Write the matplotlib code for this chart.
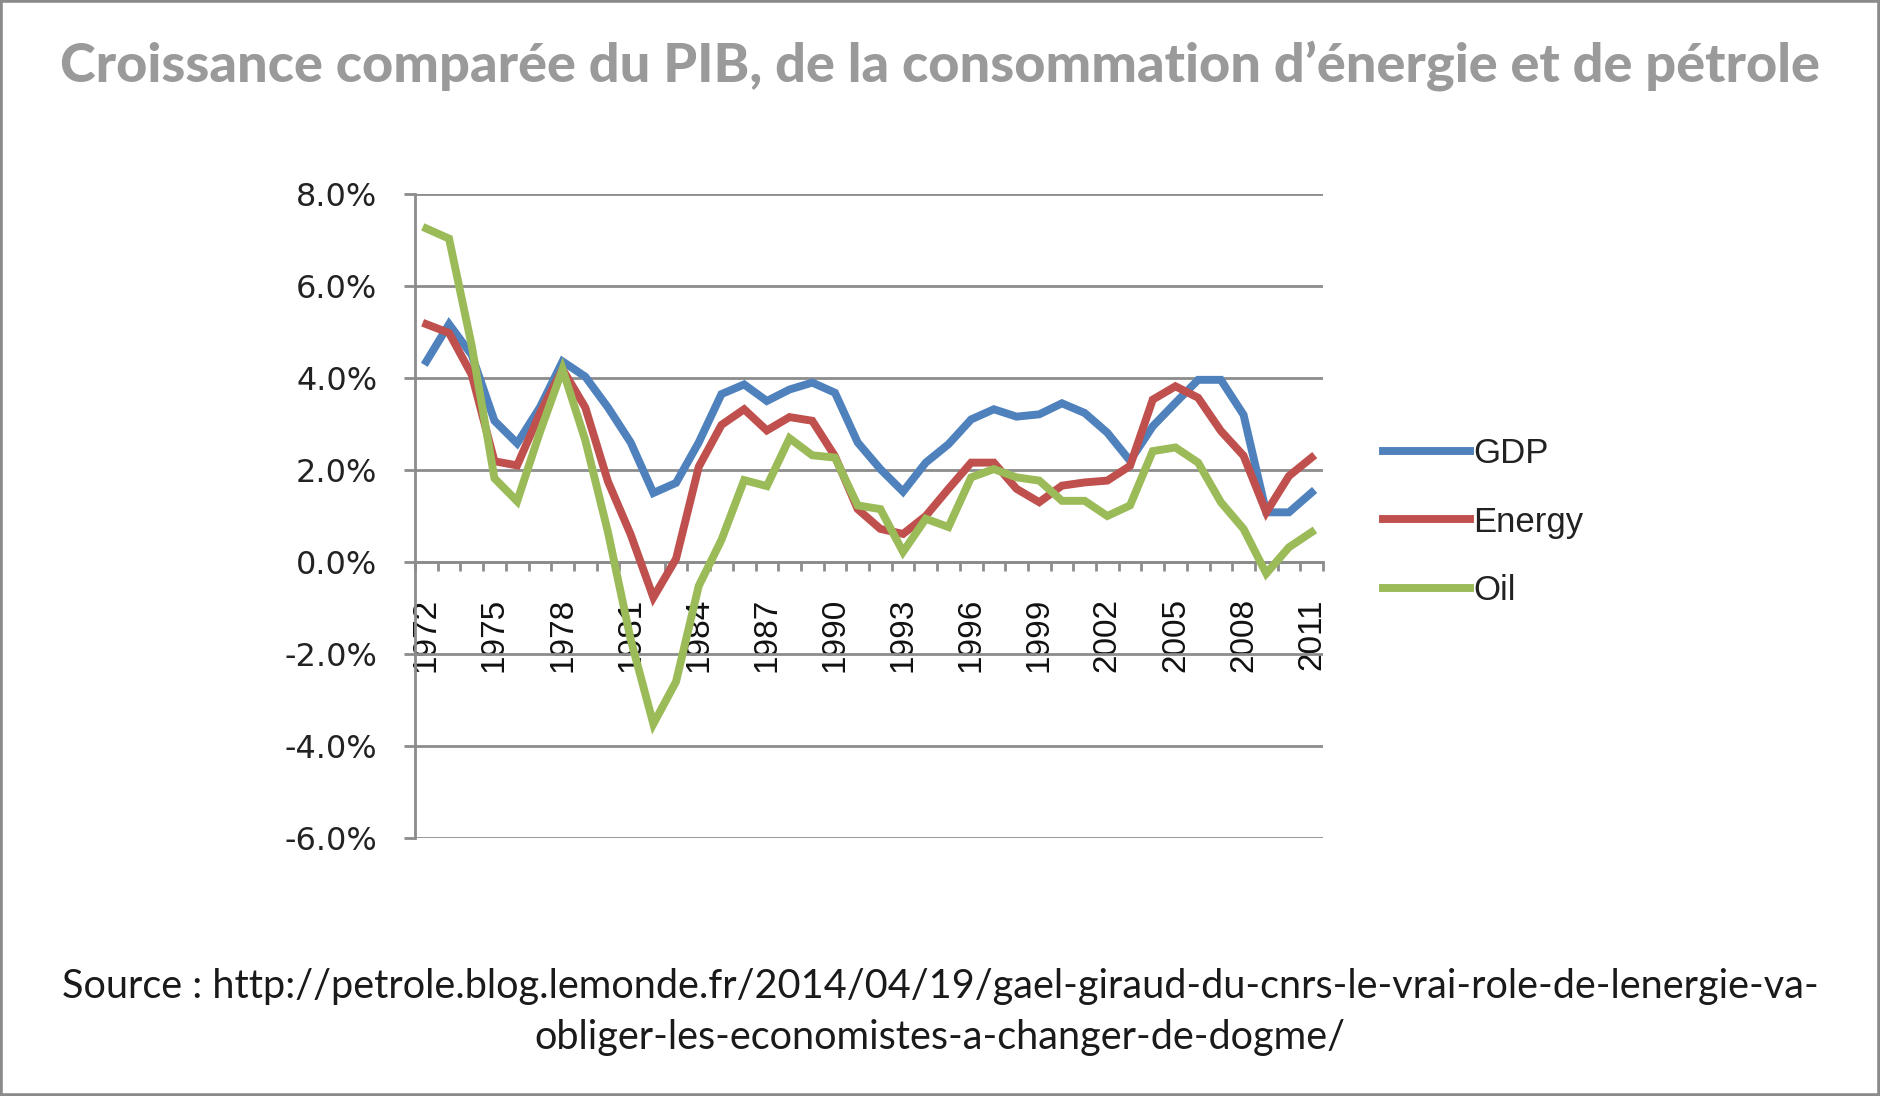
import matplotlib
matplotlib.use("Agg")
import matplotlib.pyplot as plt
from matplotlib.patches import Rectangle
from matplotlib.ticker import FuncFormatter

years = list(range(1972, 2012))
gdp = [4.36, 5.17, 4.5, 3.07, 2.58, 3.36, 4.36, 4.03, 3.36, 2.6,
       1.5, 1.72, 2.6, 3.65, 3.86, 3.5, 3.75, 3.9, 3.68, 2.6,
       2.02, 1.53, 2.16, 2.56, 3.1, 3.32, 3.16, 3.21, 3.45, 3.24,
       2.81, 2.2, 2.95, 3.46, 3.96, 3.96, 3.2, 1.08, 1.08, 1.51]
energy = [5.17, 4.98, 4.07, 2.19, 2.1, 3.23, 4.19, 3.36, 1.75, 0.6,
          -0.77, 0.07, 2.07, 2.98, 3.32, 2.86, 3.15, 3.07, 2.3, 1.15,
          0.72, 0.61, 1.0, 1.59, 2.16, 2.16, 1.59, 1.3, 1.66, 1.73,
          1.77, 2.09, 3.53, 3.82, 3.57, 2.85, 2.31, 1.08, 1.87, 2.27]
oil = [7.25, 7.03, 4.7, 1.82, 1.32, 2.82, 4.19, 2.65, 0.65, -1.68,
       -3.52, -2.6, -0.52, 0.48, 1.78, 1.65, 2.69, 2.32, 2.27, 1.23,
       1.15, 0.22, 0.94, 0.76, 1.84, 2.02, 1.84, 1.77, 1.33, 1.33,
       1.0, 1.23, 2.41, 2.49, 2.16, 1.3, 0.72, -0.25, 0.32, 0.65]
series_names = ["GDP", "Energy", "Oil"]
y_ticks = [-6, -4, -2, 0, 2, 4, 6, 8]

title = "Croissance comparée du PIB, de la consommation d\u2019énergie et de pétrole"
source = ("Source : http://petrole.blog.lemonde.fr/2014/04/19/gael-giraud-du-cnrs-le-vrai-role-de-lenergie-va-\n"
          "obliger-les-economistes-a-changer-de-dogme/")

colors = ["#4F81BD", "#C0504D", "#9BBB59"]
grid_c = "#8c8c8c"

fig = plt.figure(figsize=(18.8, 10.96), dpi=100)
fig.patch.set_facecolor("white")

ax = fig.add_axes([415 / 1880, 1 - 838 / 1096, 908 / 1880, 644 / 1096])
x = list(range(len(years)))
for vals, c, name in zip([gdp, energy, oil], colors, series_names):
    ax.plot(x, vals, color=c, lw=5.7, label=name, solid_joinstyle="miter", zorder=3)

ax.set_xlim(-0.5, len(years) - 0.5)
ax.set_ylim(-6, 8)
ax.set_yticks(y_ticks)
ax.yaxis.set_major_formatter(FuncFormatter(lambda v, p: f"{v:.1f}%"))
ax.grid(axis="y", color=grid_c, lw=2)
ax.set_axisbelow(True)
for s in ["top", "right"]:
    ax.spines[s].set_visible(False)
ax.spines["left"].set_color(grid_c)
ax.spines["left"].set_linewidth(2)
ax.spines["bottom"].set_position(("data", 0))
ax.spines["bottom"].set_color(grid_c)
ax.spines["bottom"].set_linewidth(2)
ax.tick_params(axis="y", direction="out", length=8, width=2, color=grid_c,
               labelsize=23, pad=19, labelcolor="#222222")

# category boundary ticks on the zero axis, labels every 3 years
ax.set_xticks([i - 0.5 for i in range(len(years) + 1)])
ax.set_xticklabels([])
ax.tick_params(axis="x", which="major", direction="out", length=6.5, width=2, color=grid_c)
lab_idx = list(range(0, len(years), 3))
ax.set_xticks(lab_idx, minor=True)
ax.set_xticklabels([str(years[i]) for i in lab_idx], minor=True, rotation=90,
                   fontsize=24, family="Liberation Sans", color="#111111", va="top")
ax.tick_params(axis="x", which="minor", length=0, pad=26)

leg = fig.legend(loc="center left", bbox_to_anchor=(1383 / 1880, 1 - 522 / 1096),
                 frameon=False, prop={"family": "Liberation Sans", "size": 25},
                 handlelength=2.5, handletextpad=0.1, labelspacing=1.02,
                 borderpad=0, borderaxespad=0)
for t in leg.get_texts():
    t.set_color("#222222")

fig.text(0.5, 1 - 66 / 1096, title, ha="center", va="center", color="#9a9a9a",
         fontsize=39, family="Lato", fontweight="black")
fig.text(0.5, 1 - 1012 / 1096, source, ha="center", va="center", color="#1a1a1a",
         fontsize=28.5, family="Lato", linespacing=1.45)

fig.add_artist(Rectangle((0, 0), 1, 1, transform=fig.transFigure, fill=False,
                         edgecolor="#8a8a8a", lw=4))

fig.savefig("out.png", dpi=100, facecolor="white")
